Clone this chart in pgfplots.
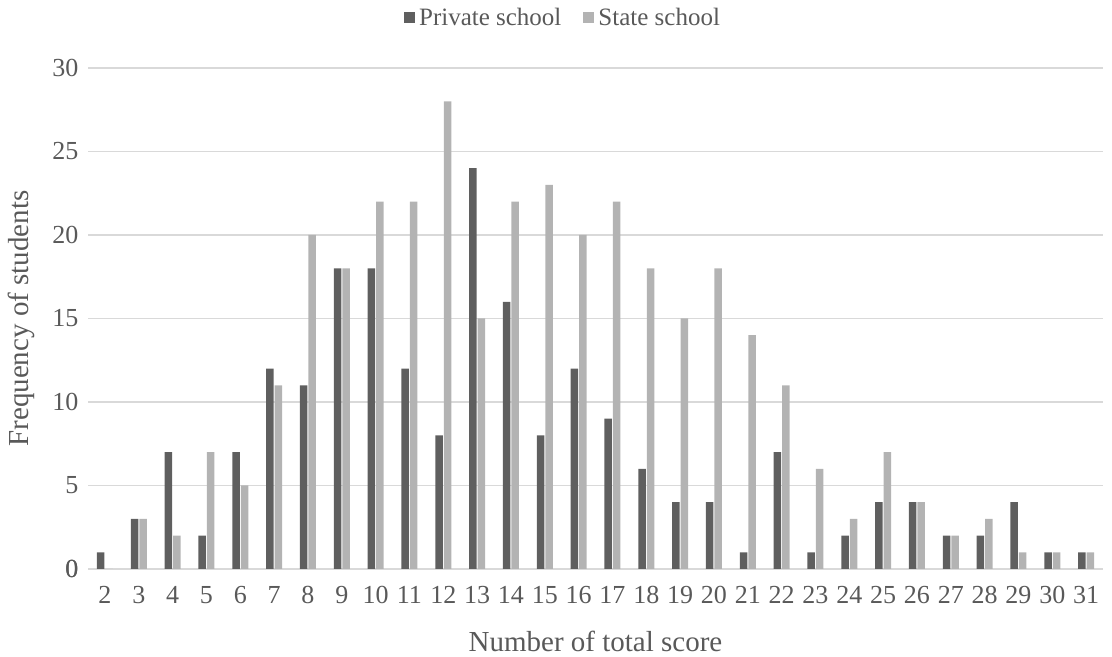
\documentclass[border=0pt]{standalone}
\usepackage{fontspec}
\setmainfont{Liberation Serif}
\usepackage{pgfplots}
\pgfplotsset{compat=1.18}
\usepackage{pgfplotstable}
\definecolor{txt}{HTML}{595959}
\definecolor{gridc}{HTML}{D9D9D9}
\definecolor{darkbar}{HTML}{5F5F5F}
\definecolor{lightbar}{HTML}{B3B3B3}

\pgfplotstableread{
x private state
2 1 0
3 3 3
4 7 2
5 2 7
6 7 5
7 12 11
8 11 20
9 18 18
10 18 22
11 12 22
12 8 28
13 24 15
14 16 22
15 8 23
16 12 20
17 9 22
18 6 18
19 4 15
20 4 18
21 1 14
22 7 11
23 1 6
24 2 3
25 4 7
26 4 4
27 2 2
28 2 3
29 4 1
30 1 1
31 1 1
}\datatable

\begin{document}
\begin{tikzpicture}
\begin{axis}[
  name=ax,
  scale only axis,
  width=1015pt, height=501pt,
  xmin=1.5, xmax=31.5,
  ymin=0, ymax=30,
  ybar=1pt,
  bar width=7.5pt,
  xtick={2,...,31},
  ytick={0,5,...,30},
  major tick length=0pt,
  axis line style={draw=none},
  axis x line*=bottom,
  axis y line*=left,
  ymajorgrids,
  grid style={gridc, line width=1.3pt},
  extra y ticks={0},
  extra y tick style={grid style={gridc,line width=1.5pt}},
  /pgf/number format/assume math mode=true,
  tick label style={font=\fontsize{26}{30}\selectfont, text=txt},
  xticklabel style={yshift=-14pt},
  yticklabel style={xshift=-6pt},
  xlabel={Number of total score},
  ylabel={Frequency of students},
  label style={font=\fontsize{29}{33}\selectfont, text=txt},
  xlabel style={at={(axis description cs:0.5,-0.145)}, anchor=center},
  ylabel style={at={(axis description cs:-0.066,0.5)}, anchor=center, rotate=0},
  legend style={at={(axis description cs:0.468,1.10)}, anchor=center,
    draw=none, fill=none, legend columns=2,
    font=\fontsize{25}{29}\selectfont, text=txt,
    /tikz/every odd column/.append style={column sep=2pt},
    /tikz/every even column/.append style={column sep=20pt}},
  legend image code/.code={\fill[#1] (0pt,-5pt) rectangle (11pt,6pt);},
  clip=false,
]
\addplot[fill=darkbar, draw=none] table[x=x, y=private] {\datatable};
\addplot[fill=lightbar, draw=none] table[x=x, y=state] {\datatable};
\legend{Private school, State school}
\end{axis}
\path ([xshift=-88pt,yshift=-88pt]ax.south west) ([xshift=9pt,yshift=68pt]ax.north east);
\end{tikzpicture}
\end{document}
